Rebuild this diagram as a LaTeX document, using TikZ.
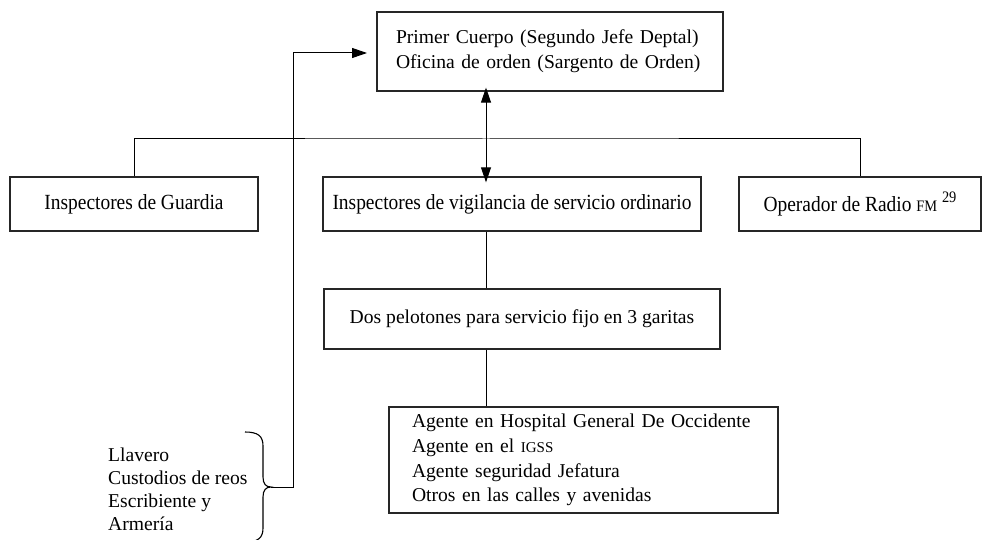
\documentclass[tikz,border=0pt]{standalone}
\usepackage{fontspec}
\setmainfont{Liberation Serif}
\newfontfamily\condfont{Liberation Serif}[FakeStretch=0.9]
\usetikzlibrary{arrows.meta}
\newcommand{\smc}[1]{{\fontsize{15}{17}\selectfont #1}}
\begin{document}
\begin{tikzpicture}[x=1pt,y=-1pt,
  every node/.style={font=\fontsize{19.6}{24.7}\selectfont},
  condtext/.style={font=\condfont\fontsize{21.6}{24.7}\selectfont},
  boxnode/.style={draw, line width=1.3pt, draw=black!85, inner sep=0pt, anchor=center},
  conn/.style={line width=1pt},
  tip/.style={-{Triangle[length=15pt,width=10pt]}}]
\useasboundingbox (0,0) rectangle (982,540);
% boxes
\node[boxnode, minimum width=346, minimum height=79, inner xsep=19, text width=308, align=left] (top) at (550,51.5)
  {Primer Cuerpo (Segundo Jefe Deptal)\\Oficina de orden (Sargento de Orden)};
\node[boxnode, condtext, minimum width=248, minimum height=54] (guard) at (134,204) {Inspectores de Guardia};
\node[boxnode, condtext, minimum width=378, minimum height=54] (vig) at (512,204) {Inspectores de vigilancia de servicio ordinario};
\node[boxnode, condtext, minimum width=242, minimum height=54] (radio) at (860,204) {Operador de Radio {\fontsize{16}{18}\selectfont FM} \raisebox{0.45em}{\fontsize{16}{18}\selectfont 29}};
\node[boxnode, minimum width=396, minimum height=60] (dos) at (522,319) {Dos pelotones para servicio fijo en 3 garitas};
\node[boxnode, minimum width=389, minimum height=106, inner xsep=23, text width=343, align=left] (agente) at (583.5,460)
  {Agente en Hospital General De Occidente\\Agente en el \smc{IGSS}\\Agente seguridad Jefatura\\Otros en las calles y avenidas};
\node[inner sep=0pt, anchor=west, align=left, font=\fontsize{19.6}{23}\selectfont] (list) at (108,489)
  {Llavero\\Custodios de reos\\Escribiente y\\Armería};
% coordinates
\coordinate (hub) at (486,139);
\coordinate (colx) at (486,0);
\coordinate (bracetip) at (271,487);
\coordinate (riser) at (293,487);
\coordinate (arrowend) at (367,53);
% connectors
\draw[conn] (guard.north) |- (hub) -| (radio.north);
\draw[conn, {Triangle[length=15pt,width=10pt]}-{Triangle[length=15pt,width=10pt]}]
  ([yshift=4pt]top.south -| colx) -- ([yshift=-6pt]vig.north -| colx);
\draw[conn] (vig.south -| colx) -- (dos.north -| colx);
\draw[conn] (dos.south -| colx) -- (agente.north -| colx);
\draw[conn, tip] (bracetip) -- (riser) |- (arrowend);
% brace
\draw[line width=1.1pt] (245,432) .. controls (258,432) and (263,436) .. (263,446)
  -- (263,477) .. controls (263,484) and (266,487) .. (bracetip)
  .. controls (266,487) and (263,490) .. (263,497)
  -- (263,528) .. controls (263,538) and (258,542) .. (245,542);
\end{tikzpicture}
\end{document}
